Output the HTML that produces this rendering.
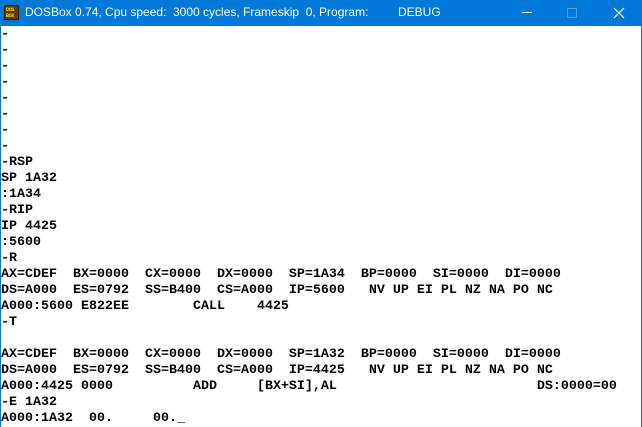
<!DOCTYPE html>
<html><head><meta charset="utf-8"><style>
html,body{margin:0;padding:0;}
body{width:642px;height:427px;overflow:hidden;background:#fff;position:relative;}
#titlebar{position:absolute;left:0;top:0;width:642px;height:26px;background:#0078d7;z-index:2;}
#title{position:absolute;left:25px;top:5px;font:12px "Liberation Sans",sans-serif;color:#fff;white-space:pre;}
.t{position:absolute;top:0;}
#icon{position:absolute;left:4px;top:5px;width:15px;height:15px;background:#5a3a10;border:1px solid #3a2408;box-sizing:border-box;}
#icon span{position:absolute;left:1px;font:bold 5px "Liberation Mono",monospace;color:#ffd700;line-height:5px;letter-spacing:-0.3px;}
#minbtn{position:absolute;left:522px;top:12px;width:10px;height:1px;background:#fff;}
#maxbtn{position:absolute;left:567px;top:8px;width:10px;height:10px;border:1px solid #4aa0e8;box-sizing:border-box;}
#closebtn{position:absolute;left:612px;top:6px;width:14px;height:14px;}
#lb{position:absolute;left:0;top:26px;width:1px;height:401px;background:#0078d7;z-index:2;}
#rb{position:absolute;left:641px;top:26px;width:1px;height:401px;background:#0078d7;z-index:2;}
#screen{position:absolute;left:1px;top:27px;margin:0;font:bold 13.333px/16px "Liberation Mono",monospace;color:#000;white-space:pre;z-index:1;}
</style></head><body>
<div id="titlebar">
<div id="icon"><span style="top:2px">DOS</span><span style="top:8px">BOX</span></div>
<div id="title"><span class="t" style="left:0">DOSBox 0.74, Cpu speed:</span><span class="t" style="left:148px">3000 cycles, Frameskip&nbsp; 0, Program:</span><span class="t" style="left:373px">DEBUG</span></div>
<div id="minbtn"></div>
<div id="maxbtn"></div>
<svg id="closebtn" viewBox="0 0 14 14"><path d="M2 2L12 12M12 2L2 12" stroke="#fff" stroke-width="1.2"/></svg>
</div>
<div id="lb"></div>
<div id="rb"></div>
<pre id="screen">-
-
-
-
-
-
-
-
-RSP
SP 1A32
:1A34
-RIP
IP 4425
:5600
-R
AX=CDEF  BX=0000  CX=0000  DX=0000  SP=1A34  BP=0000  SI=0000  DI=0000
DS=A000  ES=0792  SS=B400  CS=A000  IP=5600   NV UP EI PL NZ NA PO NC
A000:5600 E822EE        CALL    4425
-T

AX=CDEF  BX=0000  CX=0000  DX=0000  SP=1A32  BP=0000  SI=0000  DI=0000
DS=A000  ES=0792  SS=B400  CS=A000  IP=4425   NV UP EI PL NZ NA PO NC
A000:4425 0000          ADD     [BX+SI],AL                         DS:0000=00
-E 1A32
A000:1A32  00.     00._</pre>
</body></html>
